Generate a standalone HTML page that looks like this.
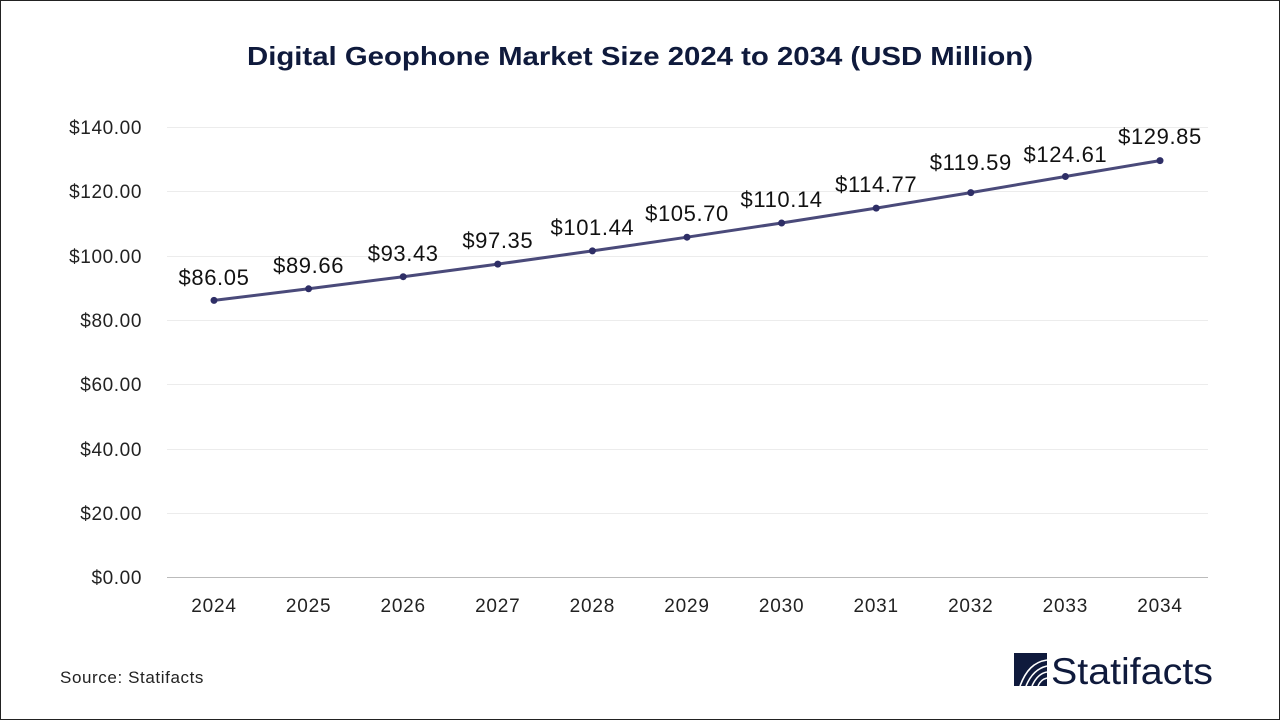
<!DOCTYPE html>
<html><head><meta charset="utf-8"><style>
body{margin:0;width:1280px;height:720px;overflow:hidden;background:#fff;font-family:"Liberation Sans",Arial,sans-serif}
</style></head><body>
<svg width="1280" height="720" viewBox="0 0 1280 720" xmlns="http://www.w3.org/2000/svg" font-family="Liberation Sans, Arial, sans-serif">
<rect x="0.5" y="0.5" width="1279" height="719" fill="#fff" stroke="#222" stroke-width="1"/>
<text x="640" y="65" text-anchor="middle" font-size="26" font-weight="bold" fill="#0f1a3c" textLength="786" lengthAdjust="spacingAndGlyphs">Digital Geophone Market Size 2024 to 2034 (USD Million)</text>
<g stroke="#ececec" stroke-width="1">
<line x1="167" x2="1208" y1="127.5" y2="127.5"/><line x1="167" x2="1208" y1="191.5" y2="191.5"/>
<line x1="167" x2="1208" y1="256.5" y2="256.5"/><line x1="167" x2="1208" y1="320.5" y2="320.5"/>
<line x1="167" x2="1208" y1="384.5" y2="384.5"/><line x1="167" x2="1208" y1="449.5" y2="449.5"/>
<line x1="167" x2="1208" y1="513.5" y2="513.5"/>
</g>
<line x1="167" x2="1208" y1="577.5" y2="577.5" stroke="#bbb"/>
<g font-size="19" fill="#222" text-anchor="end" letter-spacing="0.6">
<text x="142" y="134">$140.00</text><text x="142" y="198">$120.00</text><text x="142" y="263">$100.00</text>
<text x="142" y="327">$80.00</text><text x="142" y="391">$60.00</text><text x="142" y="456">$40.00</text>
<text x="142" y="520">$20.00</text><text x="142" y="584">$0.00</text>
</g>
<g font-size="19" fill="#222" text-anchor="middle" letter-spacing="0.8">
<text x="214" y="612">2024</text><text x="308.6" y="612">2025</text><text x="403.2" y="612">2026</text>
<text x="497.8" y="612">2027</text><text x="592.4" y="612">2028</text><text x="687" y="612">2029</text>
<text x="781.6" y="612">2030</text><text x="876.2" y="612">2031</text><text x="970.8" y="612">2032</text>
<text x="1065.4" y="612">2033</text><text x="1160" y="612">2034</text>
</g>
<polyline fill="none" stroke="#4a4a7a" stroke-width="3" points="214,300.4 308.6,288.8 403.2,276.7 497.8,264.1 592.4,250.9 687,237.2 781.6,223 876.2,208.1 970.8,192.6 1065.4,176.5 1160,160.6"/>
<g fill="#2e2e66">
<circle cx="214" cy="300.4" r="3.5"/><circle cx="308.6" cy="288.8" r="3.5"/><circle cx="403.2" cy="276.7" r="3.5"/>
<circle cx="497.8" cy="264.1" r="3.5"/><circle cx="592.4" cy="250.9" r="3.5"/><circle cx="687" cy="237.2" r="3.5"/>
<circle cx="781.6" cy="223" r="3.5"/><circle cx="876.2" cy="208.1" r="3.5"/><circle cx="970.8" cy="192.6" r="3.5"/>
<circle cx="1065.4" cy="176.5" r="3.5"/><circle cx="1160" cy="160.6" r="3.5"/>
</g>
<g font-size="22" fill="#111" text-anchor="middle" letter-spacing="0.6">
<text x="214" y="285">$86.05</text><text x="308.6" y="273">$89.66</text><text x="403.2" y="261">$93.43</text>
<text x="497.8" y="248">$97.35</text><text x="592.4" y="235">$101.44</text><text x="687" y="221">$105.70</text>
<text x="781.6" y="207">$110.14</text><text x="876.2" y="192">$114.77</text><text x="970.8" y="170">$119.59</text>
<text x="1065.4" y="162">$124.61</text><text x="1160" y="144">$129.85</text>
</g>
<text x="60" y="683" font-size="17" fill="#222" letter-spacing="0.6">Source: Statifacts</text>
<rect x="1014" y="653" width="33" height="33" fill="#0f1a3c"/>
<g stroke="#fff" stroke-width="1.6" fill="none">
<path d="M1020,686 C1026,670 1034,662 1047,660"/>
<path d="M1026,686 C1031,674 1038,668 1047,666"/>
<path d="M1032,686 C1036,677 1041,673 1047,672"/>
<path d="M1038,686 C1040,681 1043,679 1047,678"/>
</g>
<text x="1051" y="684" font-size="37" fill="#0f1a3c" textLength="162" lengthAdjust="spacingAndGlyphs">Statifacts</text>
</svg>
</body></html>
